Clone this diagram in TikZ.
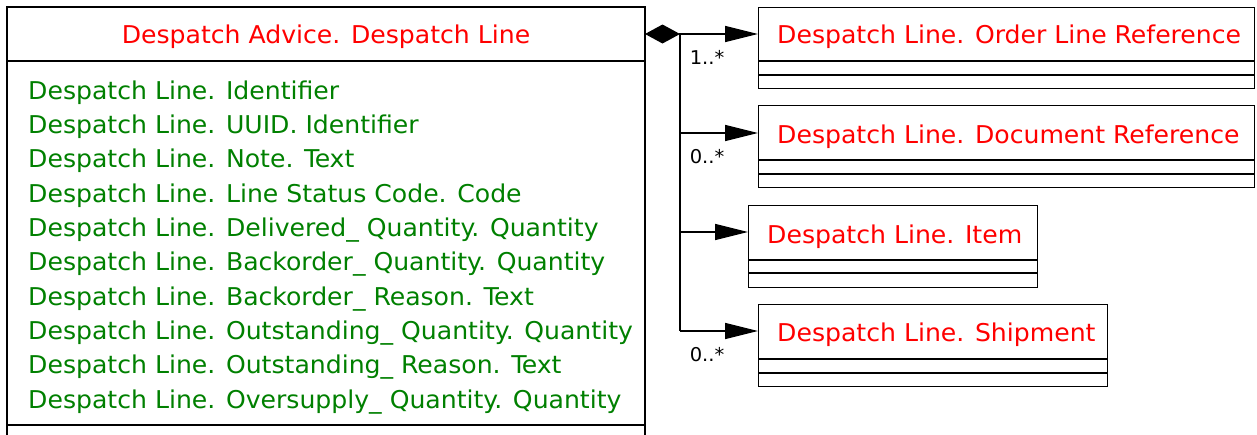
\documentclass[tikz,border=0pt]{standalone}
\usepackage{fontspec}
\setmainfont[FakeStretch=1.14]{DejaVu Sans Condensed}
\usetikzlibrary{arrows.meta}
\definecolor{umlred}{RGB}{255,0,0}
\definecolor{umlgreen}{RGB}{0,128,0}
\tikzset{
  boxline/.style={line width=1.4pt},
  cls/.style={draw, line width=1.4pt, anchor=north west, inner sep=0pt},
  ttl/.style={text=umlred, font=\fontsize{24.5}{28}\selectfont, anchor=west, inner sep=0pt},
  attr/.style={text=umlgreen, font=\fontsize{24.5}{28}\selectfont, anchor=west, inner sep=0pt},
  mult/.style={font=\fontsize{19}{20}\selectfont, anchor=center, inner sep=0pt},
  assoc/.style={line width=1.4pt, -{Triangle[length=33pt,width=16pt]}},
}
\begin{document}
\begin{tikzpicture}[x=1pt,y=-1pt]
\useasboundingbox (0,0) rectangle (1257,434);
% main class
\draw[boxline] (7,440) -- (7,7) -- (645,7) -- (645,440);
\draw[boxline] (7,61) -- (645,61);
\draw[boxline] (7,425) -- (645,425);
\coordinate (mainE) at (645,34);
\node[text=umlred, font=\fontsize{24.5}{28}\selectfont, inner sep=0pt] (mainT) at (326,37) {Despatch Advice. Despatch Line};
\node[attr] (a1) at (28,93) {Despatch Line. Identifier};
\node[attr] (a2) at (28,127) {Despatch Line. UUID. Identifier};
\node[attr] (a3) at (28,161) {Despatch Line. Note. Text};
\node[attr] (a4) at (28,196) {Despatch Line. Line Status Code. Code};
\node[attr] (a5) at (28,230) {Despatch Line. Delivered\_ Quantity. Quantity};
\node[attr] (a6) at (28,264) {Despatch Line. Backorder\_ Quantity. Quantity};
\node[attr] (a7) at (28,299) {Despatch Line. Backorder\_ Reason. Text};
\node[attr] (a8) at (28,333) {Despatch Line. Outstanding\_ Quantity. Quantity};
\node[attr] (a9) at (28,367) {Despatch Line. Outstanding\_ Reason. Text};
\node[attr] (a10) at (28,402) {Despatch Line. Oversupply\_ Quantity. Quantity};
% class 1
\node[cls, minimum width=496pt, minimum height=81pt] (b1) at (758,7) {};
\draw[boxline] (758,61) -- (1254,61) (758,75) -- (1254,75);
\node[ttl] (t1) at (777,37) {Despatch Line. Order Line Reference};
% class 2
\node[cls, minimum width=496pt, minimum height=82pt] (b2) at (758,105) {};
\draw[boxline] (758,160) -- (1254,160) (758,174) -- (1254,174);
\node[ttl] (t2) at (777,137) {Despatch Line. Document Reference};
% class 3
\node[cls, minimum width=289pt, minimum height=82pt] (b3) at (748,205) {};
\draw[boxline] (748,260) -- (1037,260) (748,273) -- (1037,273);
\node[ttl] (t3) at (767,237) {Despatch Line. Item};
% class 4
\node[cls, minimum width=349pt, minimum height=82pt] (b4) at (758,304) {};
\draw[boxline] (758,359) -- (1107,359) (758,373) -- (1107,373);
\node[ttl] (t4) at (777,335) {Despatch Line. Shipment};
% connectors
\coordinate (trunk) at (680,34);
\coordinate (j2) at (680,133);
\coordinate (j3) at (680,232);
\coordinate (j4) at (680,331);
\draw[line width=1.4pt, {Diamond[length=35pt,width=19pt]}-{Triangle[length=33pt,width=16pt]}] (mainE) -- (mainE -| b1.west);
\draw[line width=1.4pt] (trunk) -- (j4);
\draw[assoc] (j2) -- (j2 -| b2.west);
\draw[assoc] (j3) -- (j3 -| b3.west);
\draw[assoc] (j4) -- (j4 -| b4.west);
\node[mult] (m1) at (707,57) {1..*};
\node[mult] (m2) at (707,157) {0..*};
\node[mult] (m4) at (707,355) {0..*};
\end{tikzpicture}
\end{document}
